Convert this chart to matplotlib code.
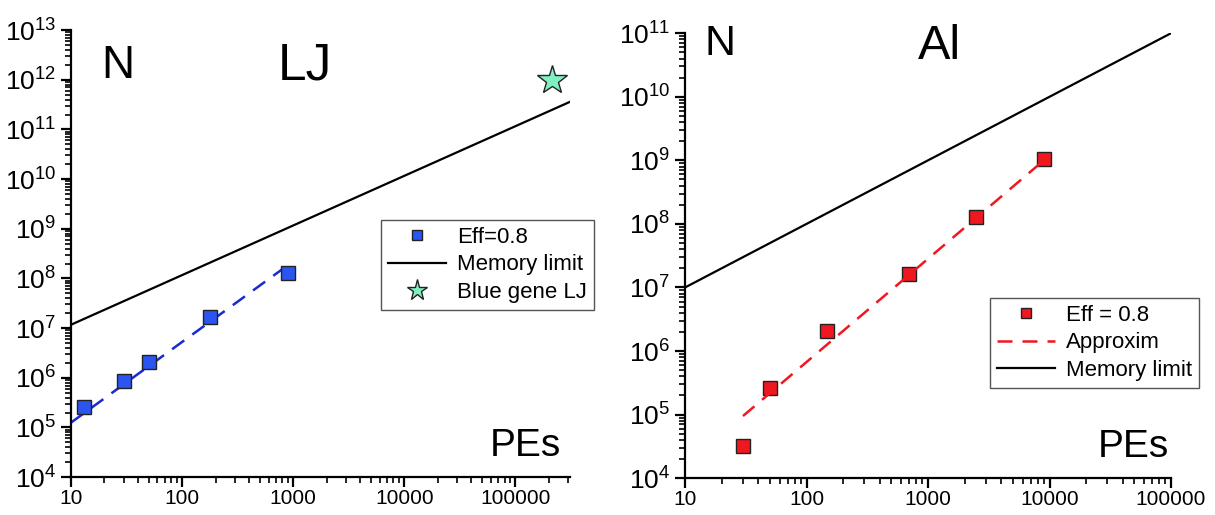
import matplotlib
matplotlib.use("Agg")
import matplotlib.pyplot as plt
import matplotlib.ticker as mticker
import numpy as np

plt.rcParams['font.family'] = ['Liberation Sans', 'DejaVu Sans']
plt.rcParams['mathtext.fontset'] = 'custom'
plt.rcParams['mathtext.rm'] = 'Liberation Sans'
plt.rcParams['mathtext.it'] = 'Liberation Sans:italic'
plt.rcParams['mathtext.bf'] = 'Liberation Sans:bold'

# LJ panel
lj_pes = [13, 30, 50, 180, 900]
lj_n = [2.6e5, 8.8e5, 2.1e6, 1.7e7, 1.3e8]
lj_fit_x = [10, 850]
lj_fit_y = [1.25e5, 1.7e8]
lj_mem_x = [10, 3.1e5]
lj_mem_y = [1.17e7, 3.6e11]
bluegene_x = [2.14e5]
bluegene_y = [1.0e12]
lj_xticks = [10, 100, 1000, 10000, 100000]
lj_yexp = list(range(4, 14))

# Al panel
al_pes = [30, 50, 148, 700, 2500, 9000]
al_n = [3.2e4, 2.6e5, 2.05e6, 1.65e7, 1.3e8, 1.05e9]
al_fit_x = [30, 8700]
al_fit_y = [9.5e4, 9.5e8]
al_mem_x = [10, 1e5]
al_mem_y = [1e7, 1e11]
al_xticks = [10, 100, 1000, 10000, 100000]
al_yexp = list(range(4, 12))

blue = '#2a55f0'
red = '#f01820'
star_c = '#80f0c0'


def style(ax, xlim, ylim, xticks, yexp):
    ax.set_xscale('log')
    ax.set_yscale('log')
    ax.set_xlim(*xlim)
    ax.set_ylim(*ylim)
    for s in ['top', 'right']:
        ax.spines[s].set_visible(False)
    for s in ['left', 'bottom']:
        ax.spines[s].set_linewidth(1.6)
    ax.set_xticks(xticks, [str(t) for t in xticks])
    ax.set_yticks([10.0 ** e for e in yexp],
                  [r'$\mathregular{10^{%d}}$' % e for e in yexp])
    ax.xaxis.set_minor_locator(mticker.LogLocator(base=10, subs=np.arange(2, 10), numticks=20))
    ax.yaxis.set_minor_locator(mticker.LogLocator(base=10, subs=np.arange(2, 10), numticks=20))
    ax.xaxis.set_minor_formatter(mticker.NullFormatter())
    ax.yaxis.set_minor_formatter(mticker.NullFormatter())
    ax.tick_params(which='major', direction='out', length=7.5, width=1.6, pad=3)
    ax.tick_params(axis='x', which='major', labelsize=15, pad=1)
    ax.tick_params(axis='y', which='major', labelsize=19)
    ax.tick_params(which='minor', direction='out', length=4.5, width=1.2)


fig = plt.figure(figsize=(12.15, 5.15), dpi=100)

ax1 = fig.add_axes([0.0584, 0.0735, 0.4107, 0.868])
style(ax1, (10, 3.1e5), (1e4, 1e13), lj_xticks, lj_yexp)
ax1.plot(lj_fit_x, lj_fit_y, color='#1a2ad0', lw=1.8, dashes=(6, 4))
ax1.plot(lj_pes, lj_n, 's', color=blue, mec='#222222', mew=1, ms=10, label='Eff=0.8')
ax1.plot(lj_mem_x, lj_mem_y, color='black', lw=1.6, label='Memory limit')
ax1.plot(bluegene_x, bluegene_y, '*', color=star_c, mec='#222222', mew=1, ms=22,
         label='Blue gene LJ', clip_on=False)
ax1.legend(loc='upper left', bbox_to_anchor=(0.60, 0.60), fontsize=16, frameon=True,
           fancybox=False, edgecolor='#555555', framealpha=1, borderpad=0.3,
           labelspacing=0.3, handlelength=2.6, handletextpad=0.5, markerscale=0.7)
ax1.text(0.06, 0.97, 'N', transform=ax1.transAxes, fontsize=33, va='top', ha='left')
ax1.text(0.415, 0.975, 'LJ', transform=ax1.transAxes, fontsize=37, va='top', ha='left')
ax1.text(0.84, 0.03, 'PEs', transform=ax1.transAxes, fontsize=28, va='bottom', ha='left')

ax2 = fig.add_axes([0.5638, 0.0715, 0.400, 0.864])
style(ax2, (10, 1e5), (1e4, 1e11), al_xticks, al_yexp)
ax2.plot(al_pes, al_n, 's', color=red, mec='#222222', mew=1, ms=10, label='Eff = 0.8')
ax2.plot(al_fit_x, al_fit_y, color=red, lw=1.8, dashes=(6, 4), label='Approxim')
ax2.plot(al_mem_x, al_mem_y, color='black', lw=1.6, label='Memory limit')
ax2.legend(loc='upper left', bbox_to_anchor=(0.605, 0.43), fontsize=16, frameon=True,
           fancybox=False, edgecolor='#555555', framealpha=1, borderpad=0.3,
           labelspacing=0.3, handlelength=2.6, handletextpad=0.5, markerscale=0.7)
ax2.text(0.04, 1.02, 'N', transform=ax2.transAxes, fontsize=31, va='top', ha='left')
ax2.text(0.48, 1.02, 'Al', transform=ax2.transAxes, fontsize=35, va='top', ha='left')
ax2.text(0.85, 0.03, 'PEs', transform=ax2.transAxes, fontsize=28, va='bottom', ha='left')

fig.savefig('out.png', dpi=100)
